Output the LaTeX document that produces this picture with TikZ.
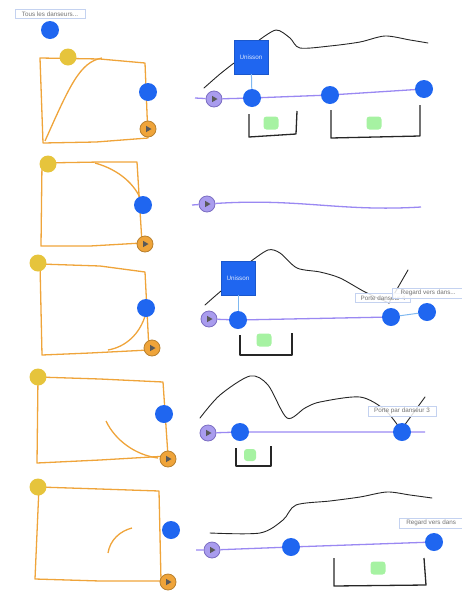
\documentclass[tikz,border=0pt]{standalone}
\usepackage{fontspec}
\setmainfont{Liberation Sans}
\usetikzlibrary{arrows.meta,positioning,calc}
\definecolor{DotBlue}{HTML}{1F66F0}
\definecolor{DotYellow}{HTML}{E6C43C}
\definecolor{PathOrange}{HTML}{EFA43A}
\definecolor{PlayEdge}{HTML}{B8802E}
\definecolor{TrackPurple}{HTML}{9A88F2}
\definecolor{PlayPurple}{HTML}{A99CEE}
\definecolor{TagBorder}{HTML}{C4D2F0}
\definecolor{LinkBlue}{HTML}{7FB8F0}
\definecolor{ZoneGreen}{HTML}{A6F2A2}
\tikzset{every node/.style={font=\fontsize{6.3}{7}\selectfont},
 dancer/.style={circle,fill=DotBlue,minimum size=18pt,inner sep=0pt},
 origin/.style={circle,fill=DotYellow,minimum size=17pt,inner sep=0pt},
 playbtn/.style={circle,minimum size=16pt,inner sep=0pt,line width=.8pt,path picture={
  \fill[black!65] ($(path picture bounding box.center)+(-2pt,-3.2pt)$)--++(0,6.4pt)--++(5.5pt,-3.2pt)--cycle;}},
 playo/.style={playbtn,draw=PlayEdge,fill=PathOrange},
 playp/.style={playbtn,draw=TrackPurple!80!black,fill=PlayPurple},
 group/.style={fill=DotBlue,draw=DotBlue!85!black,minimum size=34pt,inner sep=1pt,text=white!85!DotBlue},
 tag/.style={draw=TagBorder,fill=white,fill opacity=.85,text opacity=1,text=black!55,inner sep=2pt},
 zone/.style={fill=ZoneGreen,rounded corners=3pt,minimum width=15pt,minimum height=13pt},
 route/.style={draw=PathOrange,line width=1.3pt,line join=round},
 track/.style={draw=TrackPurple,line width=1.3pt},
 link/.style={draw=LinkBlue,line width=1pt},
 sketch/.style={draw=black!85,line width=.9pt,line cap=round},
 bracket/.style={draw=black!85,line width=1.3pt,line join=round}}
\begin{document}
\begin{tikzpicture}[x=1pt,y=-1pt]
\useasboundingbox (0,0) rectangle (462,595);
% ligne 1
\draw[route] (40,58)--(100,59)--(145,63)--(148,138)--(96,142)--(43,143)--cycle;
\draw[route] (45,141) .. controls (70,85) and (80,62) .. (102,58);
\node[origin] (s1) at (68,57) {};\node[dancer] (all) at (50,30) {};
\node[tag,minimum width=70pt] (tagall) at (50,14) {Tous les danseurs...};
\node[dancer] (d1) at (148,92) {};\node[playo] (p1) at (148,129) {};
\draw[sketch] plot[smooth] coordinates {(204,88) (220,74) (234,63)};
\draw[sketch] plot[smooth] coordinates {(258,41) (276,30) (290,38) (300,48) (330,46) (360,42) (385,36) (410,40) (428,43)};
\coordinate (e1) at (195,98);
\node[playp] (q1) at (214,99) {};\node[dancer] (a1) at (252,98) {};
\node[dancer] (b1) at (330,95) {};\node[dancer] (c1) at (424,89) {};
\draw[track] (e1)--(q1) (q1)--(a1)--(b1)--(c1);
\node[group] (u1) at (251,57) {Unisson};\draw[link] (u1)--(a1);
\draw[bracket] (249,114)--(249,137)--(296,134)--(297,111);\node[zone] (z1) at (271,123) {};
\draw[bracket] (331,110)--(331,138)--(420,136)--(420,105);\node[zone] (z2) at (374,123) {};
% ligne 2
\draw[route] (42,163)--(100,162)--(137,162)--(142,243)--(90,246)--(41,246)--cycle;
\draw[route] (95,163) .. controls (120,170) and (135,185) .. (141,200);
\node[origin] (s2) at (48,164) {};
\node[dancer] (d2) at (143,205) {};\node[playo] (p2) at (145,244) {};
\coordinate (e2) at (192,205);\coordinate (f2) at (421,207);
\node[playp] (q2) at (207,204) {};
\draw[track] (e2)--(q2);\draw[track] (q2) .. controls (300,198) and (340,212) .. (f2);
% ligne 3
\draw[route] (40,264)--(100,266)--(145,272)--(149,350)--(90,353)--(42,355)--cycle;
\draw[route] (146,313) .. controls (140,335) and (125,347) .. (108,350);
\node[origin] (s3) at (38,263) {};
\node[dancer] (d3) at (146,308) {};\node[playo] (p3) at (152,348) {};
\draw[sketch] plot[smooth] coordinates {(205,305) (214,297) (221,291)};
\draw[sketch] plot[smooth] coordinates {(250,262) (268,250) (280,253) (297,268) (320,272) (340,278) (365,292) (389,303)};
\draw[sketch] (389,303)--(408,270);
\coordinate (e3) at (200,319);
\node[playp] (q3) at (209,319) {};\node[dancer] (a3) at (238,320) {};
\node[dancer] (b3) at (391,317) {};\node[dancer] (c3) at (427,312) {};
\draw[track] (q3)--(a3)--(b3);\draw[link,line width=1pt] (b3)--(c3);
\node[group] (u3) at (238,278) {Unisson};\draw[link] (u3)--(a3);
\draw[bracket] (240,335)--(240,355)--(292,355)--(292,333);\node[zone] (z3) at (264,340) {};
\node[tag,minimum width=55pt] (tag3a) at (383,298) {Porte danseur 4};
\node[tag,minimum width=72pt,anchor=west] (tag3b) at (392,293) {Regard vers dans...};
% ligne 4
\draw[route] (38,377)--(100,379)--(163,382)--(168,456)--(100,460)--(37,463)--cycle;
\draw[route] (106,421) .. controls (115,440) and (135,455) .. (158,458);
\node[origin] (s4) at (38,377) {};
\node[dancer] (d4) at (164,414) {};\node[playo] (p4) at (168,459) {};
\draw[sketch] plot[smooth] coordinates {(200,418) (220,395) (250,376) (268,385) (287,418) (305,408) (320,402) (360,397) (385,410) (401,430)};
\draw[sketch] (401,430)--(425,397);
\node[tag,minimum width=68pt] (tag4) at (402,411) {Porte par danseur 3};
\coordinate (f4) at (425,432);
\node[playp] (q4) at (208,433) {};\node[dancer] (a4) at (240,432) {};
\node[dancer] (b4) at (402,432) {};
\draw[track] (q4)--(a4)--(b4)--(f4);
\draw[bracket] (236,448)--(236,466)--(271,466)--(271,446);\node[zone,minimum width=12pt,minimum height=12pt] (z4) at (250,455) {};
% ligne 5
\draw[route] (39,487)--(100,489)--(159,491)--(161,581)--(100,581)--(35,579)--cycle;
\draw[route] (108,553) .. controls (110,540) and (120,531) .. (132,528);
\node[origin] (s5) at (38,487) {};
\node[dancer] (d5) at (171,530) {};\node[playo] (p5) at (168,582) {};
\draw[sketch] plot[smooth] coordinates {(210,533) (260,533) (283,520) (296,505) (330,501) (360,497) (387,492) (410,495) (432,498)};
\node[tag,minimum width=64pt,anchor=west] (tag5) at (399,523) {Regard vers dans};
\coordinate (e5) at (196,550);
\node[playp] (q5) at (212,550) {};\node[dancer] (a5) at (291,547) {};
\node[dancer] (b5) at (434,542) {};
\draw[track] (e5)--(q5) (q5)--(a5)--(b5);
\draw[bracket] (334,558)--(334,586)--(426,585)--(424,558);\node[zone] (z5) at (378,568) {};
\end{tikzpicture}
\end{document}
